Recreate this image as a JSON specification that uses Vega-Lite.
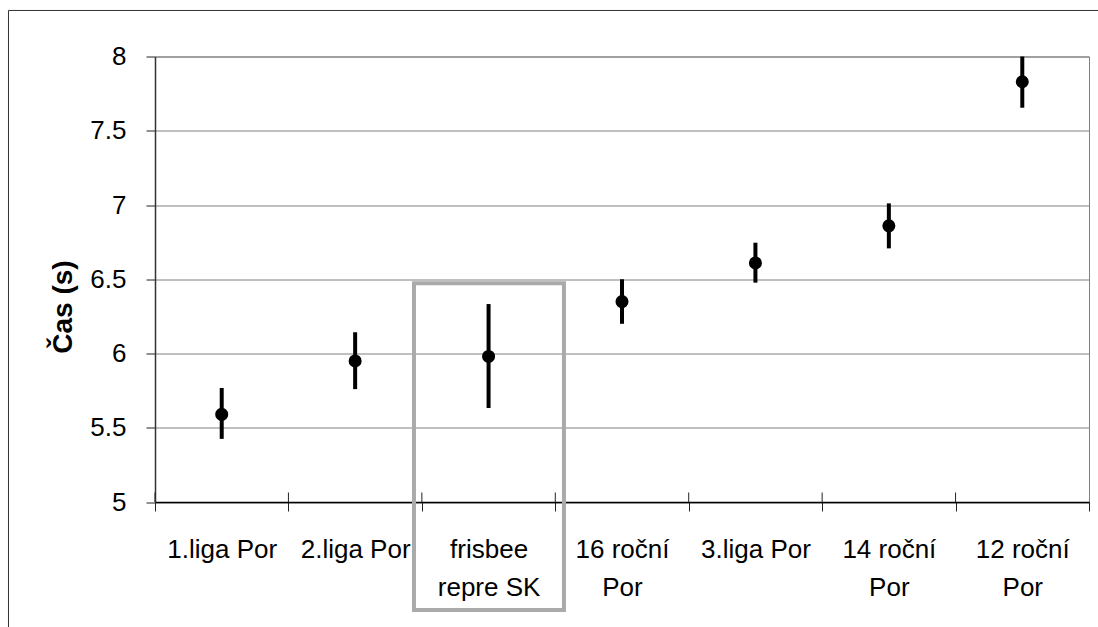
{
  "$schema": "https://vega.github.io/schema/vega-lite/v6.json",
  "autosize": {"type": "none"},
  "width": 934,
  "height": 445.5,
  "padding": {"left": 155, "top": 56.5, "right": 9, "bottom": 125},
  "background": "white",
  "config": {
    "view": {"stroke": "#808080", "strokeWidth": 1},
    "font": "Liberation Sans"
  },
  "datasets": {
    "main": [
      {"group": "1.liga Por", "mean": 5.59, "lo": 5.425, "hi": 5.768},
      {"group": "2.liga Por", "mean": 5.95, "lo": 5.76, "hi": 6.143},
      {"group": "frisbee repre SK", "mean": 5.98, "lo": 5.633, "hi": 6.333},
      {"group": "16 roční Por", "mean": 6.35, "lo": 6.2, "hi": 6.5},
      {"group": "3.liga Por", "mean": 6.61, "lo": 6.477, "hi": 6.746},
      {"group": "14 roční Por", "mean": 6.86, "lo": 6.708, "hi": 7.011},
      {"group": "12 roční Por", "mean": 7.83, "lo": 7.655, "hi": 8.0}
    ],
    "frame": [{"x1": -1.098, "x2": 7.5, "y1": 8.31, "y2": 3.8}],
    "highlight": [{"x1": 1.941, "x2": 3.065, "y1": 6.473, "y2": 4.273}]
  },
  "layer": [
    {
      "layer": [
        {
          "data": {"name": "frame"},
          "mark": {"type": "rect", "fill": null, "stroke": "#333333", "strokeWidth": 1},
          "encoding": {
            "x": {"field": "x1", "type": "quantitative", "scale": {"domain": [0, 7], "nice": false, "zero": false}, "axis": null},
            "x2": {"field": "x2"},
            "y": {"field": "y1", "type": "quantitative"},
            "y2": {"field": "y2"}
          }
        },
        {
          "data": {"name": "highlight"},
          "mark": {"type": "rect", "fill": null, "stroke": "#aaaaaa", "strokeWidth": 4},
          "encoding": {
            "x": {"field": "x1", "type": "quantitative"},
            "x2": {"field": "x2"},
            "y": {"field": "y1", "type": "quantitative"},
            "y2": {"field": "y2"}
          }
        }
      ]
    },
    {
      "data": {"name": "main"},
      "encoding": {
        "x": {
          "field": "group",
          "type": "nominal",
          "sort": null,
          "scale": {"paddingInner": 0, "paddingOuter": 0},
          "axis": {
            "orient": "bottom",
            "title": null,
            "labelAngle": 0,
            "labelFont": "Liberation Sans",
            "labelFontSize": 26,
            "labelColor": "black",
            "labelBaseline": "top",
            "labelPadding": 25,
            "labelLineHeight": 38,
            "labelLimit": 0,
            "tickBand": "extent",
            "tickSize": 9,
            "tickColor": "#222222",
            "domainColor": "black",
            "domainWidth": 1.5,
            "labelExpr": "datum.label == 'frisbee repre SK' ? ['frisbee', 'repre SK'] : (indexof(datum.label, 'roční') > 0 ? [replace(datum.label, ' Por', ''), 'Por'] : datum.label)"
          }
        }
      },
      "layer": [
        {
          "mark": {"type": "rule", "color": "#222222", "strokeWidth": 1},
          "encoding": {
            "x": {"field": "group", "type": "nominal", "sort": null, "bandPosition": 0},
            "y": {"datum": 5, "type": "quantitative"},
            "y2": {"datum": 5.064}
          }
        },
        {
          "mark": {"type": "rule", "color": "black", "strokeWidth": 4},
          "encoding": {
            "y": {
              "field": "lo",
              "type": "quantitative",
              "scale": {"domain": [5, 8], "nice": false, "zero": false},
              "axis": {
                "orient": "left",
                "title": "Čas (s)",
                "titleFont": "Liberation Sans",
                "titleFontSize": 28,
                "titleFontWeight": "bold",
                "titleColor": "black",
                "titleAngle": 270,
                "titleAlign": "center",
                "titleBaseline": "alphabetic",
                "titleX": -84,
                "titleY": 250,
                "values": [5, 5.5, 6, 6.5, 7, 7.5, 8],
                "format": "~g",
                "labelFont": "Liberation Sans",
                "labelFontSize": 26,
                "labelColor": "black",
                "labelPadding": 20,
                "tickSize": 9,
                "tickColor": "#222222",
                "domainColor": "#333333",
                "domainWidth": 1.5,
                "grid": true,
                "gridColor": "#808080",
                "gridWidth": 1
              }
            },
            "y2": {"field": "hi"}
          }
        },
        {
          "mark": {"type": "circle", "color": "black", "opacity": 1, "size": 170},
          "encoding": {
            "y": {"field": "mean", "type": "quantitative"}
          }
        }
      ]
    }
  ],
  "resolve": {"scale": {"x": "independent"}}
}
